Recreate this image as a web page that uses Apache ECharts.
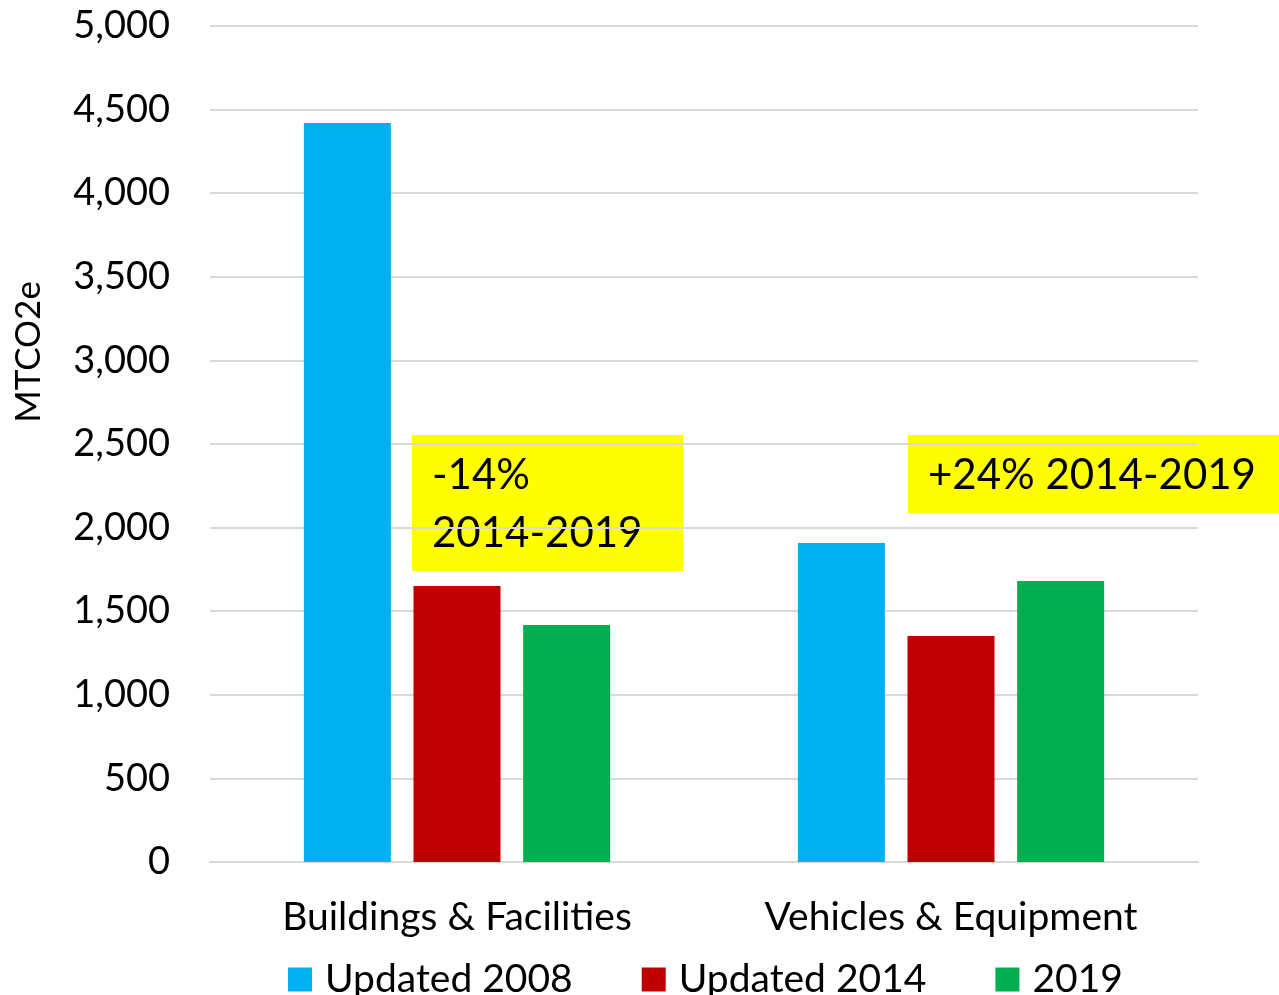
<!DOCTYPE html>
<html>
<head>
<meta charset="utf-8">
<script src="https://cdn.jsdelivr.net/npm/echarts@6/dist/echarts.min.js"></script>
<style>
  html, body { margin: 0; padding: 0; background: #fff; }
  #chart { width: 1279px; height: 995px; }
</style>
</head>
<body>
<div id="chart"></div>
<script>
// Emissions by sector, MTCO2e.
const categories = ['Buildings & Facilities', 'Vehicles & Equipment'];
const seriesNames = ['Updated 2008', 'Updated 2014', '2019'];
const updated2008 = [4420, 1908];
const updated2014 = [1651, 1352];
const values2019 = [1417, 1681];
const colors = ['#00B0F0', '#C00000', '#00B050'];

const FONT = 'Lato, "Open Sans", sans-serif';

const chart = echarts.init(document.getElementById('chart'));

const bar = (name, data, color) => ({
  name,
  type: 'bar',
  data,
  itemStyle: { color },
  barGap: '26%',
  barCategoryGap: '38%',
});

chart.setOption({
  animation: false,
  textStyle: { fontFamily: FONT, color: '#000' },
  grid: { left: 210, right: 81, top: 26, bottom: 133 },
  legend: {
    top: 955,
    left: 283,
    itemWidth: 24,
    itemHeight: 24,
    itemGap: 69,
    icon: 'rect',
    textStyle: { fontSize: 39, fontFamily: FONT, color: '#000', padding: [0, 0, 0, 8] },
    data: seriesNames,
  },
  xAxis: {
    type: 'category',
    data: categories,
    axisTick: { show: false },
    axisLine: { lineStyle: { color: '#d9d9d9', width: 2 } },
    axisLabel: { fontSize: 39, color: '#000', margin: 36, fontFamily: FONT },
  },
  yAxis: {
    type: 'value',
    min: 0,
    max: 5000,
    interval: 500,
    name: 'MTCO2e',
    nameLocation: 'middle',
    nameGap: 164,
    // shifted above the axis middle, as in the original
    nameTextStyle: { fontSize: 35, color: '#000', fontFamily: FONT, padding: [0, 0, 0, 184] },
    axisLabel: {
      fontSize: 38,
      color: '#000',
      margin: 40,
      fontFamily: FONT,
      formatter: (v) => v.toLocaleString('en-US'),
    },
    splitLine: { lineStyle: { color: '#d9d9d9', width: 2 } },
  },
  series: [
    bar(seriesNames[0], updated2008, colors[0]),
    bar(seriesNames[1], updated2014, colors[1]),
    bar(seriesNames[2], values2019, colors[2]),
  ],
  graphic: [
    {
      type: 'group',
      left: 412,
      top: 435,
      children: [
        { type: 'rect', shape: { x: 0, y: 0, width: 271, height: 136 }, style: { fill: '#FFFF00' } },
        {
          type: 'text',
          x: 20,
          y: 11,
          style: { text: '-14%\n2014-2019', font: '42px ' + FONT, fill: '#000', lineHeight: 58 },
        },
      ],
    },
    {
      type: 'group',
      left: 908,
      top: 435,
      children: [
        { type: 'rect', shape: { x: 0, y: 0, width: 371, height: 78 }, style: { fill: '#FFFF00' } },
        {
          type: 'text',
          x: 20,
          y: 11,
          style: { text: '+24% 2014-2019', font: '42px ' + FONT, fill: '#000', lineHeight: 58 },
        },
      ],
    },
  ],
});
</script>
</body>
</html>
